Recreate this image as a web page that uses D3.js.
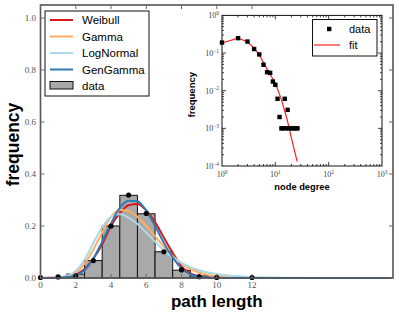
<!DOCTYPE html>
<html><head><meta charset="utf-8">
<script src="https://cdn.jsdelivr.net/npm/d3@7"></script>
<style>body{margin:0;background:#fff}svg{display:block}</style>
</head><body>
<svg id="c" width="399" height="316"></svg>
<script>
// ---------- data ----------
const histX = [0,1,2,3,4,5,6,7,8,9,10,11,12];
const histY = [0,0.002,0.015,0.067,0.2,0.318,0.247,0.101,0.03,0.008,0.002,0.001,0.001];
const dotX = [0,1,2,3,4,5,6,7,8,9,10,12];
const dotY = [0.002,0.004,0.008,0.067,0.2,0.319,0.248,0.101,0.031,0.005,0.002,0.002];
const curveX = [0,0.5,1,1.5,2,2.5,3,3.5,4,4.5,5,5.5,6,6.5,7,7.5,8,8.5,9,9.5,10,10.5,11,12,13,14,16,20];
const weibullY   = [0,0.0005,0.002,0.006,0.014,0.035,0.075,0.13,0.2,0.25,0.28,0.285,0.26,0.215,0.155,0.097,0.045,0.018,0.006,0.002,0.0005,0,0,0,0,0,0,0];
const gammaY     = [0,0,0.001,0.006,0.02,0.055,0.11,0.175,0.235,0.262,0.258,0.235,0.2,0.16,0.12,0.085,0.056,0.035,0.021,0.012,0.007,0.004,0.002,0.0006,0.0002,0,0,0];
const logNormalY = [0,0,0.001,0.008,0.027,0.07,0.135,0.195,0.235,0.245,0.232,0.208,0.175,0.14,0.106,0.079,0.058,0.042,0.03,0.021,0.015,0.011,0.008,0.004,0.002,0.001,0.0003,0];
const genGammaY  = [0,0,0.001,0.004,0.01,0.03,0.075,0.14,0.21,0.27,0.297,0.295,0.258,0.2,0.135,0.08,0.036,0.014,0.005,0.0015,0.0005,0,0,0,0,0,0,0];
const seriesNames = ["Weibull","Gamma","LogNormal","GenGamma"];
const seriesColors = ["#d7191c","#fdae61","#abd9e9","#2c7bb6"];
const mainXTicks = [0,2,4,6,8,10,12];
const mainYTicks = [0,0.2,0.4,0.6,0.8,1.0];

const degX = [1,2,3,4,5,6,7,8,9,10,11,12,13,14,15,16,17,18,20,22,24,26];
const degY = [0.19,0.249,0.202,0.128,0.092,0.049,0.031,0.0297,0.0175,0.0143,0.0061,0.002,0.001,0.001,0.0061,0.001,0.0031,0.001,0.001,0.001,0.001,0.001];
const fitX = [1,2,3,4,5,6.5,8,10,13,16.5,20.5,25.7];
const fitY = [0.185,0.249,0.2,0.135,0.09,0.045,0.027,0.016,0.0058,0.0018,0.00048,0.00013];
const insetXTicks = [0,1,2,3];   // exponents
const insetYTicks = [0,-1,-2,-3,-4];

// ---------- main chart ----------
const svg = d3.select("#c");
const L=40.5, R=393, T=5, B=278;
const x = d3.scaleLinear().domain([0,20]).range([L,R]);
const y = d3.scaleLinear().domain([0,1.05]).range([B,T]);

svg.append("rect").attr("x",L).attr("y",T).attr("width",R-L).attr("height",B-T).attr("fill","#fff");

// histogram bars
svg.append("g").selectAll("rect").data(histX.map((d,i)=>[d,histY[i]])).join("rect")
  .attr("x",d=>x(d[0]-0.5)).attr("width",d=>x(d[0]+0.5)-x(d[0]-0.5))
  .attr("y",d=>y(d[1])).attr("height",d=>y(0)-y(d[1]))
  .attr("fill","#a9a9a9").attr("stroke","#111").attr("stroke-width",1);

// curves
const line = d3.line().x(d=>x(d[0])).y(d=>y(d[1])).curve(d3.curveMonotoneX);
[weibullY,gammaY,logNormalY,genGammaY].forEach((ys,k)=>{
  svg.append("path").datum(curveX.map((d,i)=>[d,ys[i]]))
    .attr("d",line).attr("fill","none").attr("stroke",seriesColors[k]).attr("stroke-width",2);
});

// dots
svg.append("g").selectAll("circle").data(dotX.map((d,i)=>[d,dotY[i]])).join("circle")
  .attr("cx",d=>x(d[0])).attr("cy",d=>y(d[1])).attr("r",2.6).attr("fill","#000");

// frame
svg.append("rect").attr("x",L).attr("y",T).attr("width",R-L).attr("height",B-T)
  .attr("fill","none").attr("stroke","#555").attr("stroke-width",1.6);

// ticks
const tk = svg.append("g").attr("stroke","#666").attr("stroke-width",1);
mainXTicks.forEach(v=>{
  tk.append("line").attr("x1",x(v)).attr("x2",x(v)).attr("y1",B).attr("y2",B-4);
  tk.append("line").attr("x1",x(v)).attr("x2",x(v)).attr("y1",T).attr("y2",T+4);
});
mainYTicks.forEach(v=>{
  tk.append("line").attr("x1",L).attr("x2",L+4).attr("y1",y(v)).attr("y2",y(v));
  tk.append("line").attr("x1",R).attr("x2",R-4).attr("y1",y(v)).attr("y2",y(v));
});
svg.append("g").selectAll("text").data(mainXTicks).join("text")
  .attr("x",d=>x(d)).attr("y",288).attr("text-anchor","middle")
  .attr("font-family","Liberation Serif, DejaVu Serif, serif").attr("font-size",9).attr("fill","#555")
  .text(d=>d);
svg.append("g").selectAll("text").data(mainYTicks).join("text")
  .attr("x",36).attr("y",d=>y(d)+3).attr("text-anchor","end")
  .attr("font-family","Liberation Serif, DejaVu Serif, serif").attr("font-size",9).attr("fill","#555")
  .text(d=>d.toFixed(1));

// axis titles
svg.append("text").attr("x",(L+R)/2).attr("y",307).attr("text-anchor","middle")
  .attr("font-family","Liberation Sans, Arial, sans-serif").attr("font-weight","bold").attr("font-size",17)
  .text("path length");
svg.append("text").attr("transform",`translate(19,${(T+B)/2+3}) rotate(-90)`).attr("text-anchor","middle")
  .attr("font-family","Liberation Sans, Arial, sans-serif").attr("font-weight","bold").attr("font-size",17.5)
  .text("frequency");

// legend
const lg = svg.append("g");
lg.append("rect").attr("x",45).attr("y",11).attr("width",104).attr("height",85)
  .attr("fill","#fff").attr("stroke","#111").attr("stroke-width",1);
const legY = [20,36.5,53,69.5];
seriesNames.forEach((n,i)=>{
  lg.append("line").attr("x1",50).attr("x2",73).attr("y1",legY[i]).attr("y2",legY[i])
    .attr("stroke",seriesColors[i]).attr("stroke-width",2);
  lg.append("text").attr("x",82).attr("y",legY[i]+4).attr("font-family","Liberation Sans, Arial, sans-serif")
    .attr("font-size",11.5).text(n);
});
lg.append("rect").attr("x",50).attr("y",81.5).attr("width",23).attr("height",7.5)
  .attr("fill","#a9a9a9").attr("stroke","#111").attr("stroke-width",1);
lg.append("text").attr("x",82).attr("y",89.5).attr("font-family","Liberation Sans, Arial, sans-serif")
  .attr("font-size",11.5).text("data");

// ---------- inset ----------
const iL=222, iR=382, iT=15.4, iB=166;
const ix = d3.scaleLog().domain([1,1000]).range([iL,iR]);
const iy = d3.scaleLog().domain([1e-4,1]).range([iB,iT]);
const ins = svg.append("g");
ins.append("rect").attr("x",iL).attr("y",iT).attr("width",iR-iL).attr("height",iB-iT).attr("fill","#fff");

ins.append("path").datum(fitX.map((d,i)=>[d,fitY[i]]))
  .attr("d",d3.line().x(d=>ix(d[0])).y(d=>iy(d[1])))
  .attr("fill","none").attr("stroke","#ff2020").attr("stroke-width",1.2);
ins.append("g").selectAll("rect").data(degX.map((d,i)=>[d,degY[i]])).join("rect")
  .attr("x",d=>ix(d[0])-2.2).attr("y",d=>iy(d[1])-2.2).attr("width",4.4).attr("height",4.4).attr("fill","#000");

ins.append("rect").attr("x",iL).attr("y",iT).attr("width",iR-iL).attr("height",iB-iT)
  .attr("fill","none").attr("stroke","#111").attr("stroke-width",1);

const itk = ins.append("g").attr("stroke","#111").attr("stroke-width",0.8);
for (let e=0;e<3;e++){
  for (let m=1;m<10;m++){
    const v=m*Math.pow(10,e), len = m===1?4:2;
    if (m===1 && e===0) continue;
    itk.append("line").attr("x1",ix(v)).attr("x2",ix(v)).attr("y1",iB).attr("y2",iB-len);
    itk.append("line").attr("x1",ix(v)).attr("x2",ix(v)).attr("y1",iT).attr("y2",iT+len);
  }
}
for (let e=-4;e<0;e++){
  for (let m=1;m<10;m++){
    const v=m*Math.pow(10,e), len = m===1?4:2;
    if (m===1 && e===-4) continue;
    itk.append("line").attr("x1",iL).attr("x2",iL+len).attr("y1",iy(v)).attr("y2",iy(v));
    itk.append("line").attr("x1",iR).attr("x2",iR-len).attr("y1",iy(v)).attr("y2",iy(v));
  }
}
const serif = "Liberation Serif, DejaVu Serif, serif";
insetXTicks.forEach(e=>{
  const t = ins.append("text").attr("x",ix(Math.pow(10,e))).attr("y",177).attr("text-anchor","middle")
    .attr("font-family",serif).attr("font-size",8).attr("fill","#444");
  t.append("tspan").text("10");
  t.append("tspan").attr("dy",-3.5).attr("font-size",5.5).text(e);
});
insetYTicks.forEach(e=>{
  const t = ins.append("text").attr("x",219).attr("y",iy(Math.pow(10,e))+3).attr("text-anchor","end")
    .attr("font-family",serif).attr("font-size",8).attr("fill","#444");
  t.append("tspan").text("10");
  t.append("tspan").attr("dy",-3.5).attr("font-size",5.5).text(e===0?"0":"\u2212"+(-e));
});
ins.append("text").attr("x",(iL+iR)/2).attr("y",190).attr("text-anchor","middle")
  .attr("font-family","Liberation Sans, Arial, sans-serif").attr("font-weight","bold").attr("font-size",9.3)
  .text("node degree");
ins.append("text").attr("transform",`translate(195,${(iT+iB)/2+4}) rotate(-90)`).attr("text-anchor","middle")
  .attr("font-family","Liberation Sans, Arial, sans-serif").attr("font-weight","bold").attr("font-size",9.5)
  .text("frequency");

// inset legend
const il = ins.append("g");
il.append("rect").attr("x",312.5).attr("y",19.5).attr("width",64.5).attr("height",36.5)
  .attr("fill","#fff").attr("stroke","#111").attr("stroke-width",1);
il.append("rect").attr("x",327).attr("y",26.8).attr("width",4.4).attr("height",4.4).attr("fill","#000");
il.append("text").attr("x",349).attr("y",33).attr("font-family","Liberation Sans, Arial, sans-serif")
  .attr("font-size",11).text("data");
il.append("line").attr("x1",314).attr("x2",340).attr("y1",45).attr("y2",45).attr("stroke","#ff2020").attr("stroke-width",1.2);
il.append("text").attr("x",349).attr("y",49).attr("font-family","Liberation Sans, Arial, sans-serif")
  .attr("font-size",11).text("fit");
</script>
</body></html>
